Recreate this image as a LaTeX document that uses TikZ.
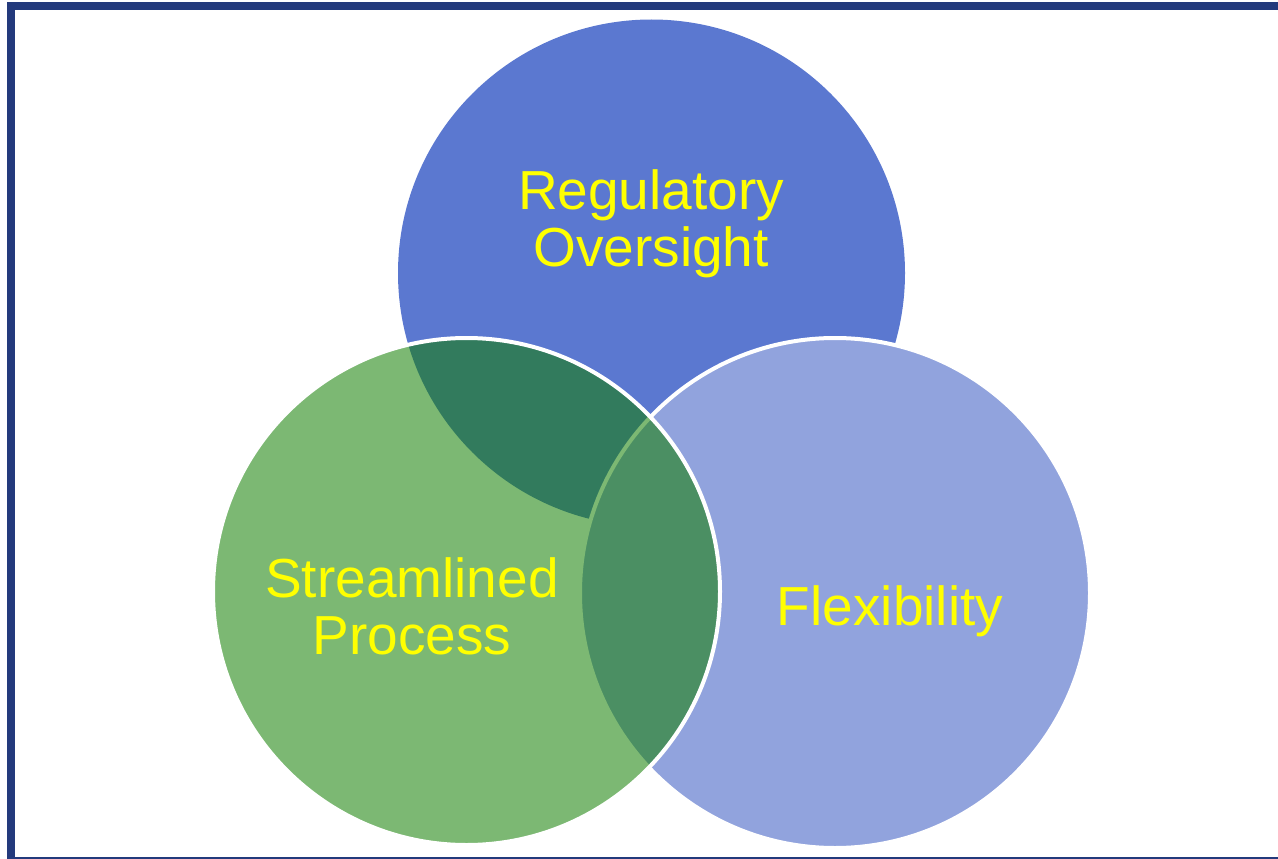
\documentclass[tikz,border=0pt]{standalone}
\usepackage{fontspec}
\setmainfont{Liberation Sans}
\definecolor{frameblue}{RGB}{35,58,124}
\definecolor{topblue}{RGB}{91,120,208}
\definecolor{lightblue}{RGB}{145,163,221}
\definecolor{greenfill}{RGB}{18,127,0}
\definecolor{labelyellow}{RGB}{255,255,0}
\tikzset{
  lbl/.style={text=labelyellow, align=center, inner sep=0pt,
    font=\fontsize{55}{57}\selectfont},
}
\begin{document}
\begin{tikzpicture}[x=1pt,y=-1pt]
\useasboundingbox (0,0) rectangle (1278,859);
\begin{scope}
\clip (0,0) rectangle (1278,859);
\fill[white] (0,0) rectangle (1278,859);
\draw[frameblue, line width=8pt] (11,6) rectangle (1286,861);
\end{scope}
% circles
\fill[topblue] (651.5,273) circle[radius=253.5pt];
\filldraw[fill=lightblue, draw=white, line width=4pt] (835,593) circle[radius=255pt];
\filldraw[fill=greenfill, fill opacity=0.55, draw=white, line width=4pt] (466.5,591.5) circle[radius=253.5pt];
% labels
\node[lbl] (reg) at (651,224) {Regulatory\\Oversight};
\node[lbl] (str) at (412,606.5) {Streamlined\\Process};
\node[lbl, anchor=base] (flex) at (890,625) {Flexibility};
\end{tikzpicture}
\end{document}
